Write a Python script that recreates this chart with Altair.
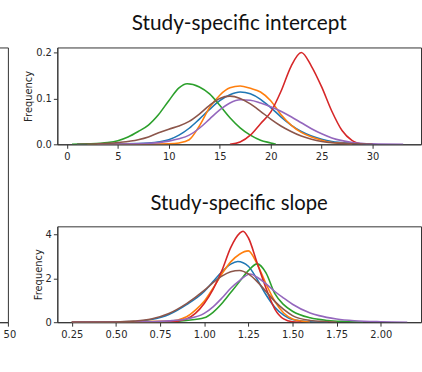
import altair as alt
import pandas as pd

series_names = ["blue", "orange", "green", "red", "purple", "brown"]
series_colors = ["#1f77b4", "#ff7f0e", "#2ca02c", "#d62728", "#9467bd", "#8c564b"]

# ---- Study-specific intercept (top panel) ----
int_blue_x = [1, 5, 8, 10, 11, 12, 13, 14, 15, 16, 17, 18, 19, 20, 21, 22, 23, 24, 25, 26, 28, 30]
int_blue_y = [0, 0.001, 0.003, 0.01, 0.02, 0.035, 0.055, 0.076, 0.095, 0.108, 0.114, 0.11, 0.098, 0.08, 0.06, 0.042, 0.028, 0.018, 0.011, 0.006, 0.002, 0]
int_orange_x = [2, 8, 10, 11, 12, 13, 14, 15, 16, 17, 18, 19, 20, 21, 22, 23, 24, 25, 26, 27, 28]
int_orange_y = [0, 0, 0.001, 0.003, 0.01, 0.04, 0.08, 0.107, 0.123, 0.127, 0.122, 0.114, 0.095, 0.065, 0.042, 0.026, 0.016, 0.009, 0.004, 0.002, 0]
int_green_x = [0.5, 2, 4, 5, 6, 7, 8, 9, 10, 11, 11.8, 13, 14, 15, 16, 17, 18, 19, 20, 20.5]
int_green_y = [0, 0.001, 0.004, 0.008, 0.016, 0.028, 0.042, 0.065, 0.095, 0.123, 0.132, 0.125, 0.11, 0.085, 0.058, 0.036, 0.02, 0.009, 0.003, 0]
int_red_x = [16, 17, 18, 19, 20, 21, 22, 23, 24, 25, 26, 27, 28, 29]
int_red_y = [0, 0.005, 0.02, 0.045, 0.07, 0.115, 0.17, 0.2, 0.17, 0.125, 0.072, 0.03, 0.008, 0]
int_purple_x = [3, 8, 10, 11, 12, 13, 14, 15, 16, 17, 18, 19, 20, 21, 22, 23, 24, 25, 26, 27, 28, 30, 33]
int_purple_y = [0, 0.002, 0.007, 0.012, 0.02, 0.035, 0.055, 0.075, 0.09, 0.097, 0.096, 0.09, 0.082, 0.072, 0.06, 0.047, 0.034, 0.023, 0.014, 0.008, 0.004, 0.001, 0]
int_brown_x = [1, 3, 5, 7, 8, 9, 10, 11, 12, 13, 14, 15, 16, 17, 18, 19, 20, 21, 22, 23, 24, 25, 27, 30]
int_brown_y = [0, 0.001, 0.004, 0.01, 0.016, 0.025, 0.033, 0.04, 0.05, 0.066, 0.085, 0.1, 0.105, 0.1, 0.088, 0.072, 0.055, 0.04, 0.028, 0.018, 0.011, 0.006, 0.002, 0]

# ---- Study-specific slope (bottom panel) ----
slp_blue_x = [0.25, 0.6, 0.7, 0.8, 0.9, 1.0, 1.05, 1.1, 1.15, 1.19, 1.25, 1.3, 1.35, 1.4, 1.45, 1.5, 1.6, 1.7]
slp_blue_y = [0, 0.03, 0.12, 0.35, 0.8, 1.4, 1.85, 2.3, 2.65, 2.77, 2.55, 1.95, 1.25, 0.68, 0.32, 0.12, 0.02, 0]
slp_orange_x = [0.25, 0.8, 0.9, 0.95, 1.0, 1.05, 1.1, 1.15, 1.2, 1.25, 1.3, 1.35, 1.4, 1.45, 1.5, 1.55, 1.6]
slp_orange_y = [0, 0.05, 0.25, 0.55, 0.95, 1.55, 2.2, 2.75, 3.1, 3.25, 2.65, 1.75, 0.95, 0.42, 0.15, 0.05, 0]
slp_green_x = [0.25, 0.8, 0.9, 1.0, 1.05, 1.1, 1.15, 1.2, 1.25, 1.3, 1.35, 1.4, 1.45, 1.5, 1.6, 1.7, 1.8, 1.9]
slp_green_y = [0, 0.02, 0.08, 0.2, 0.45, 0.85, 1.35, 1.85, 2.35, 2.66, 2.25, 1.3, 0.8, 0.5, 0.2, 0.08, 0.03, 0]
slp_red_x = [0.25, 0.8, 0.9, 0.95, 1.0, 1.05, 1.1, 1.15, 1.2, 1.22, 1.25, 1.3, 1.35, 1.4, 1.45, 1.5, 1.55]
slp_red_y = [0, 0.02, 0.15, 0.4, 0.85, 1.5, 2.35, 3.4, 4.05, 4.15, 3.85, 2.7, 1.55, 0.6, 0.15, 0.02, 0]
slp_purple_x = [0.25, 0.7, 0.8, 0.9, 1.0, 1.05, 1.1, 1.15, 1.2, 1.26, 1.3, 1.35, 1.4, 1.45, 1.5, 1.6, 1.65, 1.75, 1.85, 2.0, 2.15]
slp_purple_y = [0, 0.02, 0.06, 0.15, 0.4, 0.7, 1.1, 1.55, 1.9, 2.2, 2.05, 1.75, 1.4, 1.1, 0.82, 0.42, 0.3, 0.15, 0.07, 0.02, 0]
slp_brown_x = [0.25, 0.5, 0.6, 0.7, 0.8, 0.9, 1.0, 1.05, 1.1, 1.15, 1.2, 1.25, 1.3, 1.35, 1.4, 1.45, 1.5, 1.6, 1.7, 1.75]
slp_brown_y = [0, 0.01, 0.05, 0.15, 0.4, 0.85, 1.45, 1.8, 2.1, 2.3, 2.36, 2.2, 1.85, 1.4, 0.95, 0.58, 0.3, 0.08, 0.02, 0]

int_x_ticks = [0, 5, 10, 15, 20, 25, 30]
int_y_ticks = [0.0, 0.1, 0.2]
slp_x_ticks = [0.25, 0.5, 0.75, 1.0, 1.25, 1.5, 1.75, 2.0]
slp_y_ticks = [0, 2, 4]
left_x_ticks = [50]


def long_df(xs, ys):
    rows = []
    for name, xl, yl in zip(series_names, xs, ys):
        for i, (a, b) in enumerate(zip(xl, yl)):
            rows.append({"series": name, "x": a, "y": b, "i": i})
    return pd.DataFrame(rows)


df_int = long_df(
    [int_blue_x, int_orange_x, int_green_x, int_red_x, int_purple_x, int_brown_x],
    [int_blue_y, int_orange_y, int_green_y, int_red_y, int_purple_y, int_brown_y],
)
df_slp = long_df(
    [slp_blue_x, slp_orange_x, slp_green_x, slp_red_x, slp_purple_x, slp_brown_x],
    [slp_blue_y, slp_orange_y, slp_green_y, slp_red_y, slp_purple_y, slp_brown_y],
)

axis_common = dict(
    labelFont="DejaVu Sans", labelFontSize=10, labelColor="#262626",
    titleFont="DejaVu Sans", titleFontSize=10, titleColor="#262626", titleFontWeight="normal",
    tickColor="#333333", tickSize=4, tickWidth=1, domainColor="#333333", domainWidth=1,
    grid=False, labelFlush=False,
)

color_enc = alt.Color("series:N", scale=alt.Scale(domain=series_names, range=series_colors), legend=None)


def panel(df, xdom, ydom, xticks, yticks, yfmt, xfmt, title, title_offset, title_size, w, h):
    return alt.Chart(df).mark_line(strokeWidth=1.6, interpolate="monotone", clip=True).encode(
        x=alt.X("x:Q", scale=alt.Scale(domain=xdom, nice=False, zero=False),
                axis=alt.Axis(values=xticks, format=xfmt, title=None, labelPadding=3, **axis_common)),
        y=alt.Y("y:Q", scale=alt.Scale(domain=ydom, nice=False, zero=False),
                axis=alt.Axis(values=yticks, format=yfmt, title="Frequency", labelPadding=2,
                              titlePadding=2, **axis_common)),
        color=color_enc,
        order=alt.Order("i:Q"),
    ).properties(
        width=w, height=h,
        title=alt.TitleParams(title, font="Lato", fontSize=title_size, fontWeight="normal",
                              color="#111111", anchor="middle", offset=title_offset),
    )


top = panel(df_int, [-0.94, 34.75], [0, 0.211], int_x_ticks, int_y_ticks, ".1f", "d",
            "Study-specific intercept", 14, 21, 368, 98)
bottom = panel(df_slp, [0.168, 2.228], [0, 4.37], slp_x_ticks, slp_y_ticks, "d", ".2f",
               "Study-specific slope", 12, 20.5, 368, 97)

left = alt.Chart(pd.DataFrame({"x": left_x_ticks})).mark_point(opacity=0).encode(
    x=alt.X("x:Q", scale=alt.Scale(domain=[30, 50], nice=False, zero=False),
            axis=alt.Axis(values=left_x_ticks, format="d", title=None, labelPadding=3,
                          labelOffset=1.5, **axis_common)),
).properties(width=20, height=278)

right = alt.vconcat(top, bottom, spacing=83, bounds="flush")

chart = alt.hconcat(left, right, spacing=50, bounds="flush").properties(
    padding={"left": -13, "top": 10, "right": 0, "bottom": 0},
    background="white",
).configure_view(stroke="#333333", strokeWidth=1)

chart.save("out.html", embed_options={"renderer": "svg", "actions": False})
